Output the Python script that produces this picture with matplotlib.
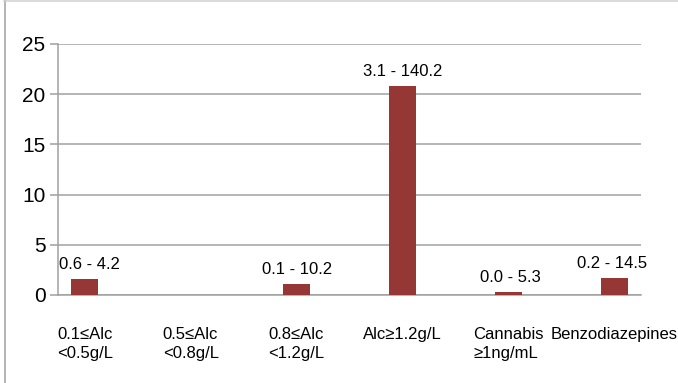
import matplotlib
matplotlib.use("Agg")
import matplotlib.pyplot as plt
from matplotlib.lines import Line2D

categories = ["0.1≤Alc\n<0.5g/L", "0.5≤Alc\n<0.8g/L", "0.8≤Alc\n<1.2g/L",
              "Alc≥1.2g/L", "Cannabis\n≥1ng/mL", "Benzodiazepines"]
values = [1.6, 0.0, 1.1, 20.8, 0.3, 1.7]
data_labels = ["0.6 - 4.2", "", "0.1 - 10.2", "3.1 - 140.2", "0.0 - 5.3", "0.2 - 14.5"]
yticks = [0, 5, 10, 15, 20, 25]

plt.rcParams['font.family'] = ['Liberation Sans', 'DejaVu Sans']

W, H = 678, 383
fig = plt.figure(figsize=(W/100, H/100), dpi=100)
ax = fig.add_axes([58/W, (H-295)/H, 583/W, 251/H])

x = list(range(len(categories)))
ax.bar(x, values, width=0.255, color='#953735', zorder=3)
ax.set_xlim(-0.255, 5.255)
ax.set_ylim(0, 25)
ax.set_yticks(yticks)
ax.set_yticklabels([str(v) for v in yticks], fontsize=15)
ax.yaxis.grid(True, color='#a0a0a0', lw=1.1, zorder=0)
ax.set_axisbelow(True)
ax.tick_params(axis='y', length=6, color='#a0a0a0', width=1.1, pad=3)
ax.tick_params(axis='x', length=0, pad=23)
ax.set_xticks(x)
ax.set_xticklabels(categories, fontsize=12, multialignment='left', linespacing=1.35)
for s in ['top', 'right']:
    ax.spines[s].set_visible(False)
for s in ['left', 'bottom']:
    ax.spines[s].set_color('#a0a0a0')
    ax.spines[s].set_linewidth(1.1)

offsets = [0.045, 0, 0, 0, 0.02, -0.02]
for xi, v, lab, o in zip(x, values, data_labels, offsets):
    if lab:
        ax.annotate(lab, (xi + o, v), xytext=(0, 5), textcoords='offset points',
                    ha='center', va='bottom', fontsize=12)

fig.add_artist(Line2D([4.5/W, 4.5/W], [0, 1], transform=fig.transFigure, color='#a0a0a0', lw=1.1))
fig.add_artist(Line2D([4/W, 1], [1 - 0.5/H, 1 - 0.5/H], transform=fig.transFigure, color='#d0d0d0', lw=1.1))

fig.savefig("out.png", dpi=100)
